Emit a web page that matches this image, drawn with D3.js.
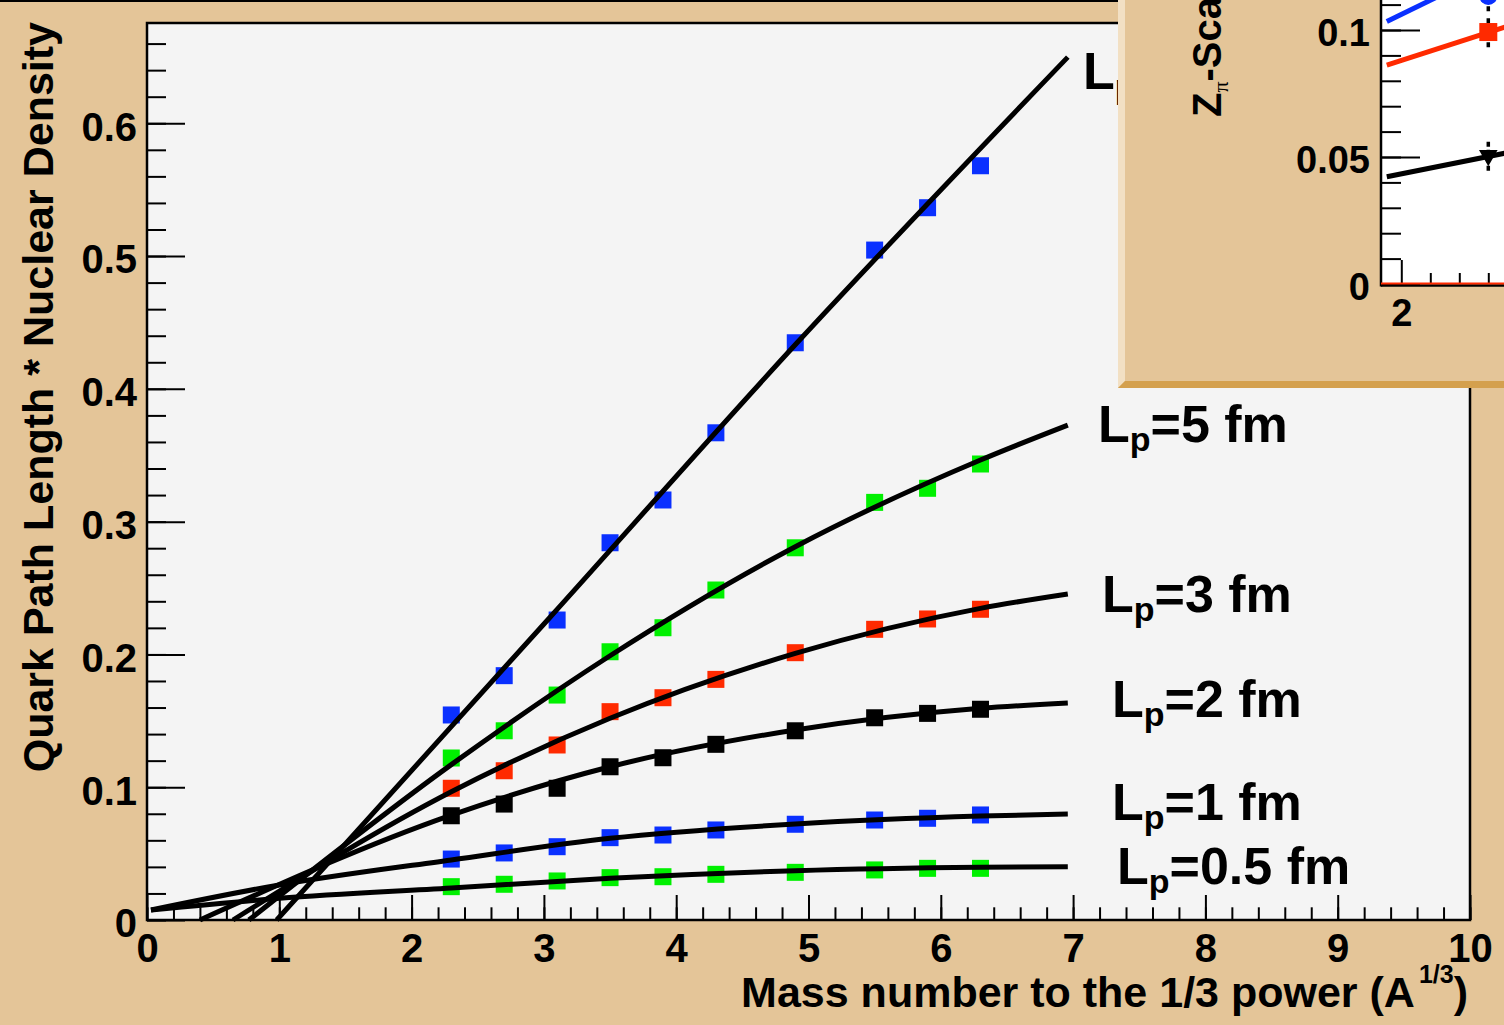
<!DOCTYPE html>
<html>
<head>
<meta charset="utf-8">
<script src="https://cdn.jsdelivr.net/npm/d3@7"></script>
<style>
body { margin: 0; background: #e4c598; }
svg { display: block; }
text { font-family: "Liberation Sans", Arial, Helvetica, sans-serif; font-weight: bold; fill: #000; }
</style>
</head>
<body>
<svg id="chart" width="1504" height="1025"></svg>
<script>
// ---- data ----
const massX = [2.3, 2.7, 3.1, 3.5, 3.9, 4.3, 4.9, 5.5, 5.9, 6.3];

// points (quark path length * nuclear density) for each production length
const ptsTop = [0.1544, 0.1840, 0.2259, 0.2841, 0.3163, 0.3669, 0.4347, 0.5045, 0.5364, 0.5680];
const pts5   = [0.1220, 0.1425, 0.1694, 0.2020, 0.2201, 0.2485, 0.2803, 0.3145, 0.3251, 0.3434];
const pts3   = [0.0992, 0.1124, 0.1318, 0.1569, 0.1674, 0.1812, 0.2013, 0.2189, 0.2267, 0.2340];
const pts2   = [0.0785, 0.0873, 0.0992, 0.1154, 0.1222, 0.1323, 0.1425, 0.1523, 0.1556, 0.1587];
const pts1   = [0.0459, 0.0505, 0.0552, 0.0620, 0.0640, 0.0678, 0.0721, 0.0753, 0.0766, 0.0791];
const pts05  = [0.0251, 0.0269, 0.0294, 0.0319, 0.0326, 0.0344, 0.0359, 0.0377, 0.0389, 0.0389];

// fitted curves (x, y)
const fitTopX = [0.98, 3.05, 4.91, 6.96];
const fitTopY = [0, 0.2284, 0.4343, 0.6498];
const fit5X = [0.77, 2.3, 3.5, 4.9, 6.3, 6.96];
const fit5Y = [0, 0.117, 0.199, 0.2811, 0.3464, 0.3727];
const fit3X = [0.65, 2.3, 3.5, 4.9, 6.3, 6.96];
const fit3Y = [0, 0.0966, 0.1519, 0.2008, 0.2347, 0.2455];
const fit2X = [0.40, 2.3, 3.5, 4.9, 6.3, 6.96];
const fit2Y = [0, 0.079, 0.1154, 0.1431, 0.1594, 0.1634];
const fit1X = [0.03, 1.0, 2.3, 3.5, 4.9, 6.3, 6.96];
const fit1Y = [0.0075, 0.0264, 0.0452, 0.0615, 0.0723, 0.0783, 0.0798];
const fit05X = [0.03, 1.0, 2.3, 3.5, 4.9, 6.3, 6.96];
const fit05Y = [0.0075, 0.0163, 0.0241, 0.0314, 0.0371, 0.0397, 0.0401];

const curveLabels = ["10 fm", "5 fm", "3 fm", "2 fm", "1 fm", "0.5 fm"];

// inset (mostly cut off by the page edge)
const insetMarkX = [2.3];
const insetBlue = [0.1134];
const insetRed = [0.0992];
const insetBlack = [0.0506];
const insetErr = [0.006];
const insetLineX = [1.95, 2.7];
const insetLineBlue = [0.1033, 0.1453];
const insetLineRed = [0.0862, 0.1137];
const insetLineBlack = [0.0422, 0.0593];

// ---- layout ----
const svg = d3.select("#chart");
const W = 1504, H = 1025;
const blue = "#0a30ff", green = "#00f000", red = "#ff2a00", black = "#000";

const x = d3.scaleLinear().domain([0, 10]).range([147, 1470]);
const y = d3.scaleLinear().domain([0, 0.6755]).range([920, 23]);

svg.append("rect").attr("width", W).attr("height", H).attr("fill", "#e4c598");
svg.append("line").attr("x1", 0).attr("x2", W).attr("y1", 1).attr("y2", 1)
    .attr("stroke", "#000").attr("stroke-width", 2);

// plot area
svg.append("rect")
    .attr("x", x(0)).attr("y", y(0.6755))
    .attr("width", x(10) - x(0)).attr("height", y(0) - y(0.6755))
    .attr("fill", "#f4f4f4");

// axes with inward ticks
function styleAxis(g, size) {
    g.select(".domain").remove();
    g.selectAll(".tick line").attr("stroke", "#000").attr("stroke-width", 2);
    g.selectAll("text").attr("font-size", size)
        .attr("font-family", "'Liberation Sans', Arial, sans-serif")
        .attr("font-weight", "bold").attr("fill", "#000");
}

const xMinor = svg.append("g").attr("transform", `translate(0,${y(0)})`)
    .call(d3.axisBottom(x).tickValues(d3.range(0, 51).map(i => i * 0.2)).tickSize(-12.7).tickFormat(""));
styleAxis(xMinor, 40);
const xMajor = svg.append("g").attr("transform", `translate(0,${y(0)})`)
    .call(d3.axisBottom(x).tickValues(d3.range(0, 11)).tickSize(-25).tickPadding(13.6).tickFormat(d3.format("d")));
styleAxis(xMajor, 40);

const yMinor = svg.append("g").attr("transform", `translate(${x(0)},0)`)
    .call(d3.axisLeft(y).tickValues(d3.range(0, 34).map(i => i * 0.02)).tickSize(-19).tickFormat(""));
styleAxis(yMinor, 40);
const yMajor = svg.append("g").attr("transform", `translate(${x(0)},0)`)
    .call(d3.axisLeft(y).tickValues(d3.range(0, 7).map(i => i / 10)).tickSize(-38).tickPadding(10)
        .tickFormat(d => d === 0 ? "0" : d3.format(".1f")(d)));
styleAxis(yMajor, 40);
yMajor.selectAll("text").attr("dy", "0.42em");

// frame
svg.append("rect")
    .attr("x", x(0)).attr("y", y(0.6755))
    .attr("width", x(10) - x(0)).attr("height", y(0) - y(0.6755))
    .attr("fill", "none").attr("stroke", "#000").attr("stroke-width", 2.5);

// markers
const series = [
    {vals: ptsTop, color: blue},
    {vals: pts5, color: green},
    {vals: pts3, color: red},
    {vals: pts2, color: black},
    {vals: pts1, color: blue},
    {vals: pts05, color: green}
];
const sq = 17;
series.forEach(s => {
    svg.append("g").selectAll("rect")
        .data(massX.map((m, i) => [m, s.vals[i]]))
        .join("rect")
        .attr("x", d => x(d[0]) - sq / 2)
        .attr("y", d => y(d[1]) - sq / 2)
        .attr("width", sq).attr("height", sq)
        .attr("fill", s.color);
});

// fit curves
const line = d3.line().x(d => x(d[0])).y(d => y(d[1])).curve(d3.curveMonotoneX);
const fits = [[fitTopX, fitTopY], [fit5X, fit5Y], [fit3X, fit3Y], [fit2X, fit2Y], [fit1X, fit1Y], [fit05X, fit05Y]];
fits.forEach(f => {
    svg.append("path")
        .datum(f[0].map((v, i) => [v, f[1][i]]))
        .attr("d", line)
        .attr("fill", "none").attr("stroke", "#000").attr("stroke-width", 5);
});

// curve labels
const labelPos = [[1083, 89], [1098, 442], [1102, 612], [1112, 717], [1112, 820], [1117, 884]];
curveLabels.forEach((t, i) => {
    const tx = svg.append("text").attr("x", labelPos[i][0]).attr("y", labelPos[i][1]).attr("font-size", 52);
    tx.append("tspan").text("L");
    tx.append("tspan").attr("font-size", 34).attr("dy", 9).text("p");
    tx.append("tspan").attr("dy", -9).text("=" + t);
});

// axis titles
svg.append("text")
    .attr("transform", "translate(53,22) rotate(-90)")
    .attr("text-anchor", "end").attr("font-size", 43)
    .text("Quark Path Length * Nuclear Density");

const xt = svg.append("text").attr("x", 1468).attr("y", 1007)
    .attr("text-anchor", "end").attr("font-size", 43);
xt.append("tspan").text("Mass number to the 1/3 power (A");
xt.append("tspan").attr("font-size", 25).attr("dx", 4).attr("dy", -24).text("1/3");
xt.append("tspan").attr("dy", 24).text(")");

// ---- inset pad (top right, cut off) ----
const pad = svg.append("g");
pad.append("rect").attr("x", 1118).attr("y", -10).attr("width", 400).attr("height", 398).attr("fill", "#e4c598");
pad.append("polygon").attr("points", "1118,-10 1125,-10 1125,381 1118,388").attr("fill", "#f2e0c4");
pad.append("polygon").attr("points", "1118,388 1125,381 1510,381 1510,388").attr("fill", "#d4a04e");

const xi = d3.scaleLinear().domain([1.93, 2.5]).range([1381, 1546.3]);
const yi = d3.scaleLinear().domain([0, 0.12]).range([284, -20.8]);

pad.append("rect").attr("x", xi(1.93)).attr("y", -10)
    .attr("width", 200).attr("height", yi(0) + 10).attr("fill", "#fff");

const yiMinor = pad.append("g").attr("transform", `translate(${xi(1.93)},0)`)
    .call(d3.axisLeft(yi).tickValues(d3.range(0, 12).map(i => i * 0.01)).tickSize(-20).tickFormat(""));
styleAxis(yiMinor, 38);
const yiMajor = pad.append("g").attr("transform", `translate(${xi(1.93)},0)`)
    .call(d3.axisLeft(yi).tickValues([0, 0.05, 0.1]).tickSize(-39).tickPadding(11)
        .tickFormat(d => d === 0 ? "0" : String(d)));
styleAxis(yiMajor, 38);
yiMajor.selectAll("text").attr("dy", "0.42em");

const xiMinor = pad.append("g").attr("transform", `translate(0,${yi(0)})`)
    .call(d3.axisBottom(xi).tickValues([2.1, 2.2, 2.3, 2.4]).tickSize(-11).tickFormat(""));
styleAxis(xiMinor, 38);
const xiMajor = pad.append("g").attr("transform", `translate(0,${yi(0)})`)
    .call(d3.axisBottom(xi).tickValues([2]).tickSize(-24).tickPadding(14.7).tickFormat(d3.format("d")));
styleAxis(xiMajor, 38);

pad.append("line").attr("x1", xi(1.93)).attr("x2", 1510).attr("y1", yi(0) + 1.5).attr("y2", yi(0) + 1.5)
    .attr("stroke", "#000").attr("stroke-width", 2.5);
pad.append("line").attr("x1", xi(1.93)).attr("x2", xi(1.93)).attr("y1", -10).attr("y2", yi(0) + 2.5)
    .attr("stroke", "#000").attr("stroke-width", 2.5);
pad.append("line").attr("x1", xi(1.93)).attr("x2", 1510).attr("y1", yi(0) - 0.5).attr("y2", yi(0) - 0.5)
    .attr("stroke", red).attr("stroke-width", 2);

const iline = d3.line().x(d => xi(d[0])).y(d => yi(d[1]));
[[insetLineBlue, blue], [insetLineRed, red], [insetLineBlack, black]].forEach(l => {
    pad.append("path")
        .datum(insetLineX.map((v, i) => [v, l[0][i]]))
        .attr("d", iline).attr("fill", "none").attr("stroke", l[1]).attr("stroke-width", 5);
});

// inset error bars and markers
[[insetBlue, blue], [insetRed, red], [insetBlack, black]].forEach(s => {
    insetMarkX.forEach((m, i) => {
        pad.append("line")
            .attr("x1", xi(m)).attr("x2", xi(m))
            .attr("y1", yi(s[0][i] - insetErr[i])).attr("y2", yi(s[0][i] + insetErr[i]))
            .attr("stroke", "#000").attr("stroke-width", 3.5).attr("stroke-dasharray", "5,3");
    });
});
pad.append("g").selectAll("circle").data(insetMarkX.map((m, i) => [m, insetBlue[i]])).join("circle")
    .attr("cx", d => xi(d[0])).attr("cy", d => yi(d[1])).attr("r", 9).attr("fill", blue);
pad.append("g").selectAll("rect").data(insetMarkX.map((m, i) => [m, insetRed[i]])).join("rect")
    .attr("x", d => xi(d[0]) - 9).attr("y", d => yi(d[1]) - 9).attr("width", 18).attr("height", 18).attr("fill", red);
const tri = d3.symbol().type(d3.symbolTriangle).size(150);
pad.append("g").selectAll("path").data(insetMarkX.map((m, i) => [m, insetBlack[i]])).join("path")
    .attr("d", tri)
    .attr("transform", d => `translate(${xi(d[0])},${yi(d[1])}) rotate(180)`)
    .attr("fill", "#000");

// inset y title (runs off the top edge, as in the original)
const zt = pad.append("text").attr("transform", "translate(1221,117) rotate(-90)").attr("font-size", 40);
zt.append("tspan").text("Z");
zt.append("tspan").attr("font-size", 22).attr("font-family", "'Liberation Serif', serif")
    .attr("font-weight", "normal").attr("dy", 7).text("\u03c0");
zt.append("tspan").attr("dy", -7).text("-Scaled Attenuation");
</script>
</body>
</html>
